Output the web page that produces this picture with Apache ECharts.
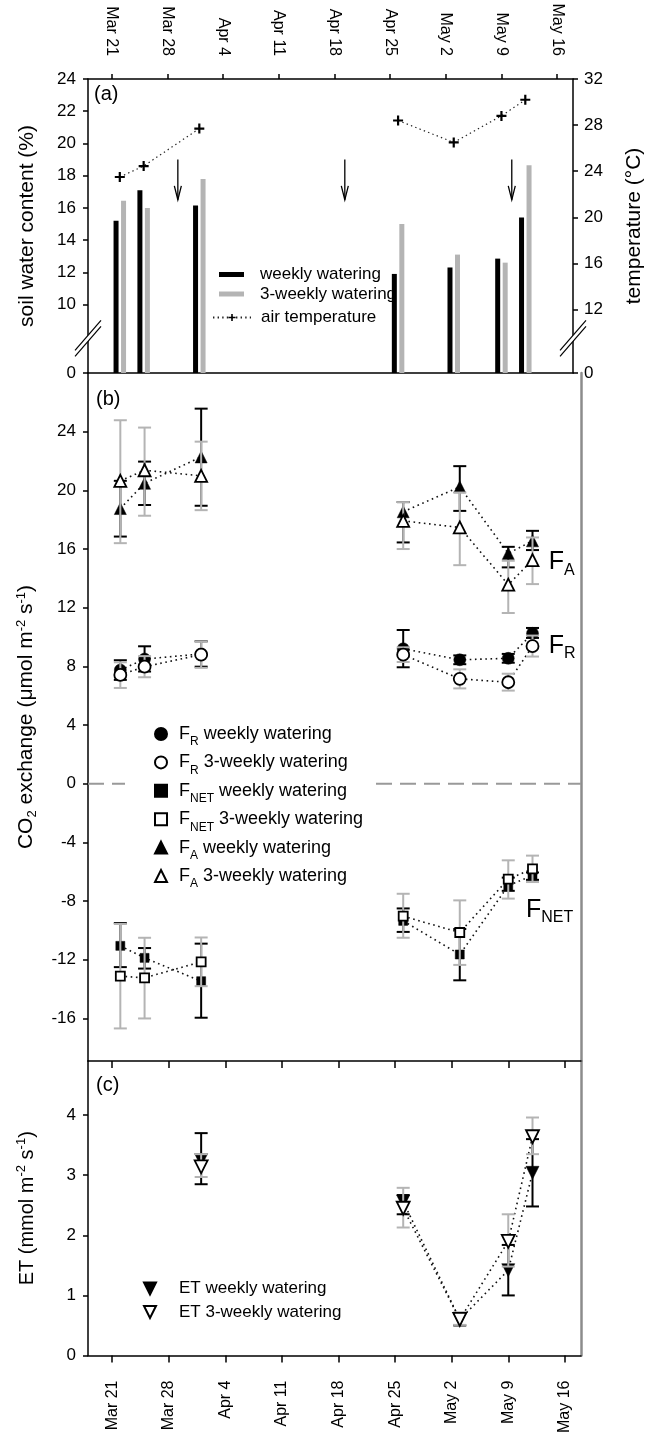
<!DOCTYPE html>
<html><head><meta charset="utf-8">
<script src="https://cdn.jsdelivr.net/npm/echarts@6.0.0/dist/echarts.min.js"></script>
<style>html,body{margin:0;padding:0;background:#fff}#c{width:653px;height:1436px}</style>
</head><body><div id="c"></div>
<script>
// ---------- data (x values are days after Mar 21) ----------
const tickDays = [0, 7, 14, 21, 28, 35, 42, 49, 56];
const tickLabels = ['Mar 21', 'Mar 28', 'Apr 4', 'Apr 11', 'Apr 18', 'Apr 25', 'May 2', 'May 9', 'May 16'];
const days = [1, 4, 11, 36, 43, 49, 52];

// (a) soil water content (%) and air temperature (°C)
const swcWeekly = [15.2, 17.1, 16.15, 11.9, 12.3, 12.85, 15.4];
const swc3Weekly = [16.45, 16.0, 17.8, 15.0, 13.1, 12.6, 18.65];
const airTemp = [23.5, 24.45, 27.7, 28.4, 26.5, 28.8, 30.2];
const wateringDays = [8.3, 29.3, 50.3];
const arrowTop = 19.0, arrowBottom = 16.5;
const swcTicks = [10, 12, 14, 16, 18, 20, 22, 24];
const tempTicks = [12, 16, 20, 24, 28, 32];

// (b) CO2 exchange (µmol m-2 s-1): mean, lower and upper error-bar ends
const frWeekly = [7.75, 8.5, 8.85, 9.2, 8.45, 8.55, 10.25];
const frWeeklyLo = [7.08, 7.65, 7.98, 7.94, 8.15, 8.25, 9.94];
const frWeeklyHi = [8.42, 9.37, 9.71, 10.48, 8.75, 8.85, 10.62];
const fr3Weekly = [7.42, 7.98, 8.8, 8.8, 7.15, 6.92, 9.38];
const fr3WeeklyLo = [6.53, 7.26, 7.9, 8.3, 6.5, 6.35, 8.67];
const fr3WeeklyHi = [8.28, 8.7, 9.7, 9.3, 7.8, 7.5, 10.1];
const fnetWeekly = [-11.05, -11.87, -13.46, -9.35, -11.64, -6.95, -6.25];
const fnetWeeklyLo = [-12.5, -12.6, -15.95, -10.1, -13.4, -7.3, -6.55];
const fnetWeeklyHi = [-9.5, -11.2, -10.9, -8.5, -9.9, -6.4, -6.05];
const fnet3Weekly = [-13.12, -13.23, -12.14, -9.03, -10.14, -6.5, -5.8];
const fnet3WeeklyLo = [-16.68, -16.0, -13.8, -10.5, -12.35, -7.83, -6.7];
const fnet3WeeklyHi = [-9.56, -10.5, -10.48, -7.5, -7.95, -5.22, -4.9];
const faWeekly = [18.76, 20.48, 22.28, 18.54, 20.24, 15.7, 16.56];
const faWeeklyLo = [16.85, 19.0, 18.95, 16.45, 18.6, 14.75, 15.93];
const faWeeklyHi = [20.65, 21.96, 25.57, 19.2, 21.65, 16.15, 17.24];
const fa3Weekly = [20.65, 21.37, 20.99, 17.92, 17.47, 13.57, 15.25];
const fa3WeeklyLo = [16.4, 18.27, 18.65, 16.0, 14.9, 11.64, 13.61];
const fa3WeeklyHi = [24.78, 24.28, 23.32, 19.2, 19.85, 15.2, 16.79];
const co2Ticks = [-16, -12, -8, -4, 0, 4, 8, 12, 16, 20, 24];
const fluxLabelX = [54.0, 54.0, 51.2];
const fluxLabelY = [15.1, 9.4, -8.6];
const fluxLabelSub = ['A', 'R', 'NET'];

// (c) ET (mmol m-2 s-1)
const etDays = [11, 36, 43, 49, 52];
const etWeekly = [3.25, 2.56, 0.6, 1.42, 3.04];
const etWeeklyLo = [2.85, 2.35, 0.5, 1.0, 2.48];
const etWeeklyHi = [3.7, 2.67, 0.7, 1.84, 3.6];
const et3Weekly = [3.14, 2.45, 0.6, 1.9, 3.64];
const et3WeeklyLo = [2.97, 2.13, 0.51, 1.48, 3.35];
const et3WeeklyHi = [3.35, 2.79, 0.72, 2.35, 3.96];
const etTicks = [0, 1, 2, 3, 4];

// ---------- helpers ----------
const FONT = '"Liberation Sans", Arial, sans-serif';
const GRAY = '#b4b4b4';
const X_MIN = -3, X_MAX = 58;
const SWC_MIN = 5.75, TEMP_MIN = 6.5, BREAK_VAL = 7.9;
const triDown = 'path://M0,0L2,0L1,2Z';

function pts(xs, ys) { return xs.map((x, i) => [x, ys[i]]); }
function gapped(xs, ys) {
  const out = [];
  xs.forEach((x, i) => { if (i > 0 && x - xs[i - 1] > 14) out.push(['-', '-']); out.push([x, ys[i]]); });
  return out;
}
function errData(xs, lo, hi) { return xs.map((x, i) => [x, lo[i], hi[i]]); }

function errSeries(xi, yi, xs, lo, hi, color, width, z) {
  return {
    type: 'custom', xAxisIndex: xi, yAxisIndex: yi, silent: true, z: z,
    data: errData(xs, lo, hi), encode: { x: 0, y: [1, 2] },
    renderItem: function (params, api) {
      const a = api.coord([api.value(0), api.value(1)]);
      const b = api.coord([api.value(0), api.value(2)]);
      const st = { stroke: color, lineWidth: width, fill: null };
      const h = 6.5;
      return { type: 'group', children: [
        { type: 'line', shape: { x1: a[0], y1: a[1], x2: b[0], y2: b[1] }, style: st },
        { type: 'line', shape: { x1: a[0] - h, y1: a[1], x2: a[0] + h, y2: a[1] }, style: st },
        { type: 'line', shape: { x1: b[0] - h, y1: b[1], x2: b[0] + h, y2: b[1] }, style: st }
      ] };
    }
  };
}
function dotLine(xi, yi, xs, ys) {
  return { type: 'line', xAxisIndex: xi, yAxisIndex: yi, silent: true, symbol: 'none', z: 1,
    data: gapped(xs, ys), connectNulls: false,
    lineStyle: { color: '#111', width: 1.6, type: [1.6, 3.6] } };
}
function marker(name, xi, yi, xs, ys, symbol, size, filled, z) {
  return { type: 'scatter', name: name, xAxisIndex: xi, yAxisIndex: yi, silent: true, z: z,
    data: pts(xs, ys), symbol: symbol, symbolSize: size,
    itemStyle: filled ? { color: '#000', borderColor: '#000', borderWidth: 0.5, opacity: 1 }
                      : { color: '#fff', borderColor: '#000', borderWidth: 1.8, opacity: 1 } };
}
const plusPath = 'path://M3.9,0H6.1V3.9H10V6.1H6.1V10H3.9V6.1H0V3.9H3.9Z';

const tickDayLabel = v => { const i = tickDays.indexOf(Math.round(v)); return i >= 0 ? tickLabels[i] : ''; };
const axisLineBlack = { show: true, onZero: false, lineStyle: { color: '#000', width: 1.5 } };
const axisLineGray = { show: true, onZero: false, lineStyle: { color: '#8c8c8c', width: 2.5 } };
const labelStyle = { color: '#000', fontFamily: FONT, fontSize: 17 };
const dateLabelStyle = { color: '#000', fontFamily: FONT, fontSize: 16 };

function xAxisDef(grid, pos, opts) {
  return Object.assign({
    type: 'value', gridIndex: grid, position: pos, min: X_MIN, max: X_MAX,
    splitLine: { show: false }, axisLine: axisLineBlack,
    axisTick: { show: false }, axisLabel: { show: false }
  }, opts || {});
}
const dateTicks = (len) => ({ show: true, inside: false, length: len, customValues: tickDays, lineStyle: { color: '#000', width: 1.5 } });
const dateLabels = (margin) => Object.assign({ show: true, rotate: 90, margin: margin, customValues: tickDays, formatter: tickDayLabel }, dateLabelStyle);

const richBase = { fontFamily: FONT, color: '#000' };
const nameRich = {
  n: Object.assign({ fontSize: 21 }, richBase),
  sub: Object.assign({ fontSize: 13, padding: [12, 0, 0, 0] }, richBase),
  sup: Object.assign({ fontSize: 13, padding: [0, 0, 11, 0] }, richBase)
};
const nameRichET = {
  n: Object.assign({ fontSize: 20 }, richBase),
  sup: Object.assign({ fontSize: 13, padding: [0, 0, 11, 0] }, richBase)
};

const legendRich = {
  m: Object.assign({ fontSize: 18, verticalAlign: 'middle' }, richBase),
  s: Object.assign({ fontSize: 12, padding: [16, 0, 0, 0], verticalAlign: 'middle' }, richBase)
};
const co2LegendText = {
  'FR weekly': '{m|F}{s|R}{m| weekly watering}',
  'FR 3-weekly': '{m|F}{s|R}{m| 3-weekly watering}',
  'FNET weekly': '{m|F}{s|NET}{m| weekly watering}',
  'FNET 3-weekly': '{m|F}{s|NET}{m| 3-weekly watering}',
  'FA weekly': '{m|F}{s|A}{m| weekly watering}',
  'FA 3-weekly': '{m|F}{s|A}{m| 3-weekly watering}'
};

const option = {
  animation: false,
  backgroundColor: '#fff',
  textStyle: { fontFamily: FONT },
  title: [
    { text: '(a)', left: 94, top: 84, padding: 0, textStyle: { fontSize: 20, fontWeight: 'normal', fontFamily: FONT, color: '#000' } },
    { text: '(b)', left: 96, top: 389, padding: 0, textStyle: { fontSize: 20, fontWeight: 'normal', fontFamily: FONT, color: '#000' } },
    { text: '(c)', left: 96, top: 1075, padding: 0, textStyle: { fontSize: 20, fontWeight: 'normal', fontFamily: FONT, color: '#000' } }
  ],
  grid: [
    { left: 88, width: 493, top: 79, height: 294 },
    { left: 88, width: 493, top: 373, height: 688 },
    { left: 88, width: 493, top: 1061, height: 295 }
  ],
  xAxis: [
    xAxisDef(0, 'top', { axisTick: dateTicks(5), axisLabel: dateLabels(23) }),      // 0
    xAxisDef(0, 'bottom'),                                                          // 1
    xAxisDef(1, 'bottom', { axisTick: dateTicks(7) }),                             // 2
    xAxisDef(2, 'bottom', { axisTick: dateTicks(7), axisLabel: dateLabels(25) })   // 3
  ],
  yAxis: [
    { type: 'value', gridIndex: 0, position: 'left', min: SWC_MIN, max: 24, startValue: SWC_MIN,
      splitLine: { show: false }, axisLine: axisLineBlack,
      axisTick: { show: true, length: 5, customValues: [SWC_MIN].concat(swcTicks), lineStyle: { color: '#000', width: 1.5 } },
      axisLabel: Object.assign({ margin: 12, customValues: [SWC_MIN].concat(swcTicks), formatter: v => v < 9 ? '0' : String(v) }, labelStyle),
      name: 'soil water content (%)', nameLocation: 'middle', nameGap: 50,
      nameTextStyle: { fontSize: 21, fontFamily: FONT, color: '#000' } },
    { type: 'value', gridIndex: 0, position: 'right', min: TEMP_MIN, max: 32,
      splitLine: { show: false }, axisLine: axisLineBlack,
      axisTick: { show: true, length: 5, customValues: [TEMP_MIN].concat(tempTicks), lineStyle: { color: '#000', width: 1.5 } },
      axisLabel: Object.assign({ margin: 11, customValues: [TEMP_MIN].concat(tempTicks), formatter: v => v < 9 ? '0' : String(v) }, labelStyle),
      name: 'temperature (°C)', nameLocation: 'middle', nameGap: 51,
      nameTextStyle: { fontSize: 21, fontFamily: FONT, color: '#000' } },
    { type: 'value', gridIndex: 1, position: 'left', min: -18.9, max: 28,
      splitLine: { show: false }, axisLine: axisLineBlack,
      axisTick: { show: true, length: 5, customValues: co2Ticks, lineStyle: { color: '#000', width: 1.5 } },
      axisLabel: Object.assign({ margin: 12, customValues: co2Ticks }, labelStyle),
      name: '{n|CO}{sub|2}{n| exchange (μmol m}{sup|-2}{n| s}{sup|-1}{n|)}', nameLocation: 'middle', nameGap: 49,
      nameTextStyle: { fontSize: 21, fontFamily: FONT, color: '#000', rich: nameRich } },
    { type: 'value', gridIndex: 1, position: 'right', min: -18.9, max: 28,
      splitLine: { show: false }, axisLine: axisLineGray, axisTick: { show: false }, axisLabel: { show: false } },
    { type: 'value', gridIndex: 2, position: 'left', min: 0, max: 4.9,
      splitLine: { show: false }, axisLine: axisLineBlack,
      axisTick: { show: true, length: 5, customValues: etTicks, lineStyle: { color: '#000', width: 1.5 } },
      axisLabel: Object.assign({ margin: 12, customValues: etTicks }, labelStyle),
      name: '{n|ET (mmol m}{sup|-2}{n| s}{sup|-1}{n|)}', nameLocation: 'middle', nameGap: 49,
      nameTextStyle: { fontSize: 20, fontFamily: FONT, color: '#000', rich: nameRichET } },
    { type: 'value', gridIndex: 2, position: 'right', min: 0, max: 4.9,
      splitLine: { show: false }, axisLine: axisLineGray, axisTick: { show: false }, axisLabel: { show: false } }
  ],
  legend: [
    { data: ['weekly watering', '3-weekly watering'], orient: 'vertical', left: 219, top: 266, padding: 0,
      itemWidth: 25, itemHeight: 5, itemGap: 2.5, icon: 'rect', selectedMode: false,
      textStyle: { fontSize: 17, fontFamily: FONT, color: '#000', padding: [0, 0, 0, 11] } },
    { data: ['air temperature'], orient: 'vertical', left: 212, top: 309, padding: 0,
      itemWidth: 38, itemHeight: 9, selectedMode: false,
      textStyle: { fontSize: 17, fontFamily: FONT, color: '#000', padding: [0, 0, 0, 5] } },
    { data: ['FR weekly', 'FR 3-weekly', 'FNET weekly', 'FNET 3-weekly', 'FA weekly', 'FA 3-weekly'],
      orient: 'vertical', left: 125, top: 721, padding: [4, 12, 4, 29], backgroundColor: '#fff',
      itemWidth: 12, itemHeight: 12, itemGap: 5.4, selectedMode: false,
      formatter: n => co2LegendText[n], textStyle: { padding: [0, 0, 0, 7], rich: legendRich } },
    { data: ['ET weekly watering', 'ET 3-weekly watering'], orient: 'vertical', left: 143, top: 1280, padding: 0,
      itemWidth: 12, itemHeight: 12, itemGap: 6.5, selectedMode: false,
      textStyle: { fontSize: 17, fontFamily: FONT, color: '#000', padding: [0, 0, 0, 18] } }
  ],
  series: [
    // ---- panel (a)
    { type: 'bar', name: 'weekly watering', xAxisIndex: 0, yAxisIndex: 0, data: pts(days, swcWeekly),
      barWidth: 5, barGap: '50%', clip: true, itemStyle: { color: '#000' }, silent: true },
    { type: 'bar', name: '3-weekly watering', xAxisIndex: 0, yAxisIndex: 0, data: pts(days, swc3Weekly),
      barWidth: 5, barGap: '50%', clip: true, itemStyle: { color: GRAY }, silent: true },
    { type: 'line', name: 'air temperature', xAxisIndex: 0, yAxisIndex: 1, data: gapped(days, airTemp),
      symbol: plusPath, symbolSize: 10, itemStyle: { color: '#000' }, silent: true, z: 4,
      lineStyle: { color: '#222', width: 1.2, type: [1.4, 3.2] } },
    { type: 'custom', xAxisIndex: 0, yAxisIndex: 0, silent: true,
      data: wateringDays.map(d => [d, arrowTop, arrowBottom]), encode: { x: 0, y: [1, 2] },
      renderItem: function (params, api) {
        const a = api.coord([api.value(0), api.value(1)]);
        const b = api.coord([api.value(0), api.value(2)]);
        const st = { stroke: '#000', lineWidth: 1.3, fill: null };
        return { type: 'group', children: [
          { type: 'line', shape: { x1: a[0], y1: a[1], x2: b[0], y2: b[1] }, style: st },
          { type: 'polyline', shape: { points: [[b[0] - 3.5, b[1] - 14], [b[0], b[1]], [b[0] + 3.5, b[1] - 14]] }, style: st }
        ] };
      } },
    { type: 'custom', xAxisIndex: 0, yAxisIndex: 0, silent: true, z: 10,
      data: [[X_MIN, BREAK_VAL], [X_MAX, BREAK_VAL]], encode: { x: 0, y: 1 },
      renderItem: function (params, api) {
        const c = api.coord([api.value(0), api.value(1)]);
        const x = c[0], y = c[1];
        const st = { stroke: '#000', lineWidth: 1.2, fill: null };
        return { type: 'group', children: [
          { type: 'polygon', shape: { points: [[x - 13, y + 18], [x + 13, y - 12], [x + 13, y - 18], [x - 13, y + 12]] }, style: { fill: '#fff' } },
          { type: 'line', shape: { x1: x - 13, y1: y + 18, x2: x + 13, y2: y - 12 }, style: st },
          { type: 'line', shape: { x1: x - 13, y1: y + 12, x2: x + 13, y2: y - 18 }, style: st }
        ] };
      } },
    // ---- panel (b)
    { type: 'line', xAxisIndex: 2, yAxisIndex: 2, silent: true, symbol: 'none', z: 1, data: [[X_MIN, 0], [X_MAX, 0]],
      lineStyle: { color: '#999', width: 2, type: [16, 8] } },
    dotLine(2, 2, days, frWeekly), dotLine(2, 2, days, fr3Weekly),
    dotLine(2, 2, days, fnetWeekly), dotLine(2, 2, days, fnet3Weekly),
    dotLine(2, 2, days, faWeekly), dotLine(2, 2, days, fa3Weekly),
    errSeries(2, 2, days, frWeeklyLo, frWeeklyHi, '#000', 2, 2),
    errSeries(2, 2, days, fnetWeeklyLo, fnetWeeklyHi, '#000', 2, 2),
    errSeries(2, 2, days, faWeeklyLo, faWeeklyHi, '#000', 2, 2),
    marker('FR weekly', 2, 2, days, frWeekly, 'circle', 12, true, 3),
    marker('FNET weekly', 2, 2, days, fnetWeekly, 'rect', 9, true, 3),
    marker('FA weekly', 2, 2, days, faWeekly, 'triangle', 12, true, 3),
    errSeries(2, 2, days, fr3WeeklyLo, fr3WeeklyHi, GRAY, 2, 4),
    errSeries(2, 2, days, fnet3WeeklyLo, fnet3WeeklyHi, GRAY, 2, 4),
    errSeries(2, 2, days, fa3WeeklyLo, fa3WeeklyHi, GRAY, 2, 4),
    marker('FR 3-weekly', 2, 2, days, fr3Weekly, 'circle', 12, false, 5),
    marker('FNET 3-weekly', 2, 2, days, fnet3Weekly, 'rect', 9, false, 5),
    marker('FA 3-weekly', 2, 2, days, fa3Weekly, 'triangle', 12, false, 5),
    { type: 'custom', xAxisIndex: 2, yAxisIndex: 2, silent: true, z: 6,
      data: fluxLabelX.map((x, i) => [x, fluxLabelY[i], i]), encode: { x: 0, y: 1 },
      renderItem: function (params, api) {
        const c = api.coord([api.value(0), api.value(1)]);
        return { type: 'text', x: c[0], y: c[1], style: {
          text: '{f|F}{s|' + fluxLabelSub[api.value(2)] + '}', align: 'left', verticalAlign: 'middle',
          rich: { f: Object.assign({ fontSize: 25, verticalAlign: 'middle' }, richBase),
                  s: Object.assign({ fontSize: 16, padding: [16, 0, 0, 0], verticalAlign: 'middle' }, richBase) } } };
      } },
    // ---- panel (c)
    dotLine(3, 4, etDays, etWeekly), dotLine(3, 4, etDays, et3Weekly),
    errSeries(3, 4, etDays, etWeeklyLo, etWeeklyHi, '#000', 2, 2),
    marker('ET weekly watering', 3, 4, etDays, etWeekly, triDown, 13, true, 3),
    errSeries(3, 4, etDays, et3WeeklyLo, et3WeeklyHi, GRAY, 2, 4),
    marker('ET 3-weekly watering', 3, 4, etDays, et3Weekly, triDown, 13, false, 5)
  ]
};
const chart = echarts.init(document.getElementById('c'), null, { renderer: 'canvas' });
chart.setOption(option);
</script></body></html>
